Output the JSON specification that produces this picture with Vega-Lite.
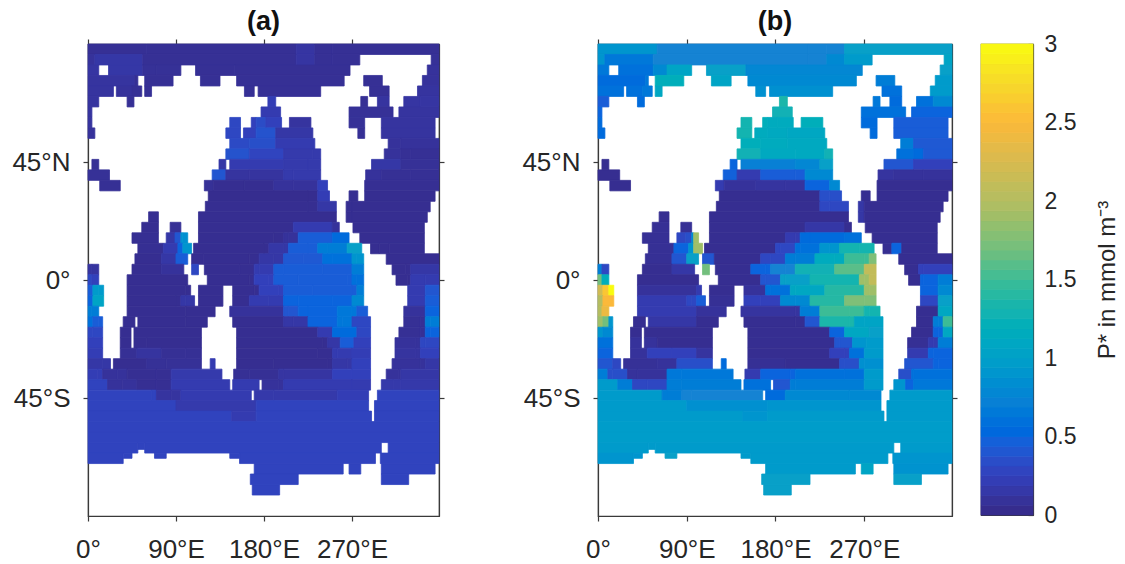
{"$schema":"https://vega.github.io/schema/vega-lite/v6.json","padding":{"left":11,"top":7,"right":0,"bottom":0},"background":"white","spacing":21,
"config":{"view":{"stroke":"#3a3a3a","strokeWidth":1.2},"range":{"heatmap":["#352a87","#3240bb","#0b64dd","#1583d3","#08a0c8","#12b1b5","#3cbc96","#7fbf78","#b4bd61","#d8ba50","#fbb93a","#f6d92a","#f9fb0e"],"ramp":["#352a87","#3240bb","#0b64dd","#1583d3","#08a0c8","#12b1b5","#3cbc96","#7fbf78","#b4bd61","#d8ba50","#fbb93a","#f6d92a","#f9fb0e"]},"axis":{"labelFont":"Liberation Sans","labelFontSize":26,"labelColor":"#262626","tickColor":"#3a3a3a","domainColor":"#3a3a3a","tickSize":5,"grid":false,"title":null,"tickWidth":1.2,"domainWidth":1.2},"title":{"font":"Liberation Sans","fontSize":27,"fontWeight":"bold","color":"#111111","offset":2}},
"datasets":{"ocean":[
{"n":90,"s":86,"w":0,"e":60,"a":0.07,"b":0.9},{"n":90,"s":86,"w":60,"e":213,"a":0.07,"b":0.75},{"n":90,"s":86,"w":213,"e":232,"a":0.13,"b":0.75},{"n":90,"s":86,"w":232,"e":250,"a":0.07,"b":0.75},{"n":90,"s":86,"w":250,"e":359,"a":0.07,"b":1.0},
{"n":86,"s":82,"w":0,"e":7,"a":0.1,"b":0.9},{"n":86,"s":82,"w":7,"e":56,"a":0.15,"b":0.65},{"n":86,"s":82,"w":56,"e":213,"a":0.07,"b":0.75},{"n":86,"s":82,"w":213,"e":232,"a":0.13,"b":0.75},{"n":86,"s":82,"w":232,"e":250,"a":0.07,"b":0.8},{"n":86,"s":82,"w":250,"e":278,"a":0.07,"b":0.95},{"n":86,"s":82,"w":351,"e":359,"a":0.08,"b":1.05},
{"n":82,"s":78,"w":0,"e":11,"a":0.13,"b":0.65},{"n":82,"s":78,"w":21,"e":56,"a":0.15,"b":0.6},{"n":82,"s":78,"w":56,"e":70,"a":0.08,"b":0.8},{"n":82,"s":78,"w":70,"e":95,"a":0.08,"b":1.05},{"n":82,"s":78,"w":110,"e":150,"a":0.07,"b":1.0},{"n":82,"s":78,"w":150,"e":268,"a":0.07,"b":0.78},{"n":82,"s":78,"w":347,"e":359,"a":0.1,"b":1.0},
{"n":78,"s":74,"w":0,"e":48,"a":0.12,"b":0.55},{"n":78,"s":74,"w":48,"e":51,"a":0.07,"b":0.65},{"n":78,"s":74,"w":58,"e":87,"a":0.07,"b":1.2},{"n":78,"s":74,"w":115,"e":135,"a":0.07,"b":1.05},{"n":78,"s":74,"w":152,"e":262,"a":0.07,"b":0.8},{"n":78,"s":74,"w":282,"e":301,"a":0.07,"b":0.7},{"n":78,"s":74,"w":342,"e":359,"a":0.1,"b":0.95},
{"n":74,"s":70,"w":0,"e":26,"a":0.12,"b":0.6},{"n":74,"s":70,"w":29,"e":45,"a":0.1,"b":0.6},{"n":74,"s":70,"w":45,"e":55,"a":0.07,"b":0.65},{"n":74,"s":70,"w":58,"e":65,"a":0.07,"b":1.1},{"n":74,"s":70,"w":160,"e":170,"a":0.07,"b":0.85},{"n":74,"s":70,"w":174,"e":238,"a":0.07,"b":0.85},{"n":74,"s":70,"w":288,"e":308,"a":0.07,"b":0.6},{"n":74,"s":70,"w":337,"e":359,"a":0.12,"b":0.95},
{"n":70,"s":66,"w":0,"e":11,"a":0.12,"b":0.45},{"n":70,"s":66,"w":40,"e":47,"a":0.07,"b":0.55},{"n":70,"s":66,"w":184,"e":192,"a":0.22,"b":1.35},{"n":70,"s":66,"w":279,"e":286,"a":0.07,"b":0.65},{"n":70,"s":66,"w":296,"e":308,"a":0.12,"b":0.55},{"n":70,"s":66,"w":323,"e":340,"a":0.13,"b":0.6},{"n":70,"s":66,"w":340,"e":359,"a":0.13,"b":0.8},
{"n":66,"s":62,"w":0,"e":4,"a":0.12,"b":0.5},{"n":66,"s":62,"w":177,"e":197,"a":0.2,"b":1.25},{"n":66,"s":62,"w":267,"e":312,"a":0.08,"b":0.6},{"n":66,"s":62,"w":318,"e":359,"a":0.12,"b":0.5},
{"n":62,"s":58,"w":0,"e":4,"a":0.12,"b":0.55},{"n":62,"s":58,"w":145,"e":156,"a":0.3,"b":1.3},{"n":62,"s":58,"w":167,"e":172,"a":0.25,"b":1.2},{"n":62,"s":58,"w":172,"e":182,"a":0.33,"b":1.15},{"n":62,"s":58,"w":182,"e":198,"a":0.25,"b":1.15},{"n":62,"s":58,"w":206,"e":228,"a":0.12,"b":1.2},{"n":62,"s":58,"w":267,"e":283,"a":0.08,"b":0.55},{"n":62,"s":58,"w":300,"e":355,"a":0.12,"b":0.45},
{"n":58,"s":54,"w":0,"e":7,"a":0.1,"b":0.55},{"n":58,"s":54,"w":141,"e":156,"a":0.3,"b":1.3},{"n":58,"s":54,"w":159,"e":172,"a":0.25,"b":1.15},{"n":58,"s":54,"w":172,"e":192,"a":0.38,"b":1.12},{"n":58,"s":54,"w":192,"e":230,"a":0.15,"b":1.1},{"n":58,"s":54,"w":276,"e":283,"a":0.07,"b":0.55},{"n":58,"s":54,"w":300,"e":355,"a":0.12,"b":0.45},
{"n":54,"s":50,"w":145,"e":165,"a":0.32,"b":1.2},{"n":54,"s":50,"w":165,"e":192,"a":0.35,"b":1.15},{"n":54,"s":50,"w":192,"e":232,"a":0.2,"b":1.12},{"n":54,"s":50,"w":307,"e":320,"a":0.1,"b":0.7},{"n":54,"s":50,"w":320,"e":359,"a":0.1,"b":0.42},
{"n":50,"s":46,"w":141,"e":165,"a":0.38,"b":1.25},{"n":50,"s":46,"w":165,"e":200,"a":0.28,"b":1.12},{"n":50,"s":46,"w":200,"e":230,"a":0.18,"b":1.12},{"n":50,"s":46,"w":230,"e":238,"a":0.18,"b":1.25},{"n":50,"s":46,"w":303,"e":320,"a":0.1,"b":0.6},{"n":50,"s":46,"w":320,"e":330,"a":0.07,"b":0.55},{"n":50,"s":46,"w":330,"e":359,"a":0.07,"b":0.42},
{"n":46,"s":42,"w":4,"e":11,"a":0.07,"b":0.05},{"n":46,"s":42,"w":134,"e":141,"a":0.15,"b":0.5},{"n":46,"s":42,"w":145,"e":200,"a":0.2,"b":0.72},{"n":46,"s":42,"w":200,"e":225,"a":0.18,"b":0.78},{"n":46,"s":42,"w":225,"e":238,"a":0.18,"b":1.0},{"n":46,"s":42,"w":290,"e":320,"a":0.15,"b":0.4},{"n":46,"s":42,"w":320,"e":359,"a":0.08,"b":0.25},
{"n":42,"s":38,"w":0,"e":22,"a":0.08,"b":0.05},{"n":42,"s":38,"w":127,"e":141,"a":0.4,"b":0.48},{"n":42,"s":38,"w":141,"e":165,"a":0.12,"b":0.2},{"n":42,"s":38,"w":165,"e":200,"a":0.12,"b":0.45},{"n":42,"s":38,"w":200,"e":210,"a":0.18,"b":0.45},{"n":42,"s":38,"w":210,"e":238,"a":0.18,"b":0.8},{"n":42,"s":38,"w":284,"e":300,"a":0.1,"b":0.12},{"n":42,"s":38,"w":300,"e":330,"a":0.07,"b":0.1},{"n":42,"s":38,"w":330,"e":359,"a":0.07,"b":0.1},
{"n":38,"s":34,"w":12,"e":33,"a":0.07,"b":0.05},{"n":38,"s":34,"w":119,"e":128,"a":0.08,"b":0.2},{"n":38,"s":34,"w":128,"e":160,"a":0.05,"b":0.1},{"n":38,"s":34,"w":160,"e":190,"a":0.05,"b":0.12},{"n":38,"s":34,"w":190,"e":210,"a":0.1,"b":0.12},{"n":38,"s":34,"w":210,"e":235,"a":0.1,"b":0.5},{"n":38,"s":34,"w":235,"e":245,"a":0.25,"b":0.8},{"n":38,"s":34,"w":283,"e":359,"a":0.06,"b":0.05},
{"n":34,"s":30,"w":123,"e":225,"a":0.04,"b":0.05},{"n":34,"s":30,"w":225,"e":235,"a":0.04,"b":0.35},{"n":34,"s":30,"w":235,"e":247,"a":0.22,"b":0.35},{"n":34,"s":30,"w":267,"e":276,"a":0.05,"b":0.05},{"n":34,"s":30,"w":283,"e":355,"a":0.05,"b":0.05},
{"n":30,"s":26,"w":120,"e":225,"a":0.05,"b":0.05},{"n":30,"s":26,"w":225,"e":235,"a":0.05,"b":0.3},{"n":30,"s":26,"w":235,"e":254,"a":0.15,"b":0.3},{"n":30,"s":26,"w":264,"e":270,"a":0.05,"b":0.15},{"n":30,"s":26,"w":270,"e":350,"a":0.05,"b":0.05},
{"n":26,"s":22,"w":62,"e":72,"a":0.05,"b":0.05},{"n":26,"s":22,"w":113,"e":254,"a":0.05,"b":0.05},{"n":26,"s":22,"w":264,"e":270,"a":0.05,"b":0.15},{"n":26,"s":22,"w":270,"e":347,"a":0.05,"b":0.05},
{"n":22,"s":18,"w":55,"e":72,"a":0.05,"b":0.07},{"n":22,"s":18,"w":84,"e":95,"a":0.07,"b":0.07},{"n":22,"s":18,"w":113,"e":210,"a":0.05,"b":0.05},{"n":22,"s":18,"w":210,"e":250,"a":0.2,"b":0.15},{"n":22,"s":18,"w":250,"e":257,"a":0.1,"b":0.05},{"n":22,"s":18,"w":271,"e":344,"a":0.05,"b":0.05},
{"n":18,"s":14,"w":45,"e":72,"a":0.06,"b":0.07},{"n":18,"s":14,"w":80,"e":89,"a":0.15,"b":0.3},{"n":18,"s":14,"w":89,"e":95,"a":0.4,"b":0.35},{"n":18,"s":14,"w":95,"e":97,"a":0.85,"b":0.8},{"n":18,"s":14,"w":97,"e":102,"a":0.85,"b":1.9},{"n":18,"s":14,"w":113,"e":190,"a":0.05,"b":0.05},{"n":18,"s":14,"w":190,"e":200,"a":0.05,"b":0.2},{"n":18,"s":14,"w":200,"e":205,"a":0.1,"b":0.2},{"n":18,"s":14,"w":205,"e":215,"a":0.1,"b":0.55},{"n":18,"s":14,"w":215,"e":250,"a":0.45,"b":0.55},{"n":18,"s":14,"w":250,"e":267,"a":0.55,"b":0.6},{"n":18,"s":14,"w":278,"e":344,"a":0.05,"b":0.05},
{"n":14,"s":10,"w":51,"e":77,"a":0.06,"b":0.07},{"n":14,"s":10,"w":77,"e":92,"a":0.2,"b":0.5},{"n":14,"s":10,"w":92,"e":97,"a":0.5,"b":0.9},{"n":14,"s":10,"w":97,"e":106,"a":0.9,"b":1.9},{"n":14,"s":10,"w":108,"e":180,"a":0.05,"b":0.05},{"n":14,"s":10,"w":180,"e":185,"a":0.05,"b":0.3},{"n":14,"s":10,"w":185,"e":200,"a":0.15,"b":0.3},{"n":14,"s":10,"w":200,"e":205,"a":0.15,"b":0.6},{"n":14,"s":10,"w":205,"e":225,"a":0.45,"b":0.6},{"n":14,"s":10,"w":225,"e":235,"a":0.45,"b":0.9},{"n":14,"s":10,"w":235,"e":245,"a":0.7,"b":0.9},{"n":14,"s":10,"w":245,"e":265,"a":0.7,"b":1.3},{"n":14,"s":10,"w":265,"e":280,"a":1.0,"b":1.3},{"n":14,"s":10,"w":289,"e":298,"a":0.05,"b":0.05},{"n":14,"s":10,"w":298,"e":308,"a":0.05,"b":0.5},{"n":14,"s":10,"w":308,"e":344,"a":0.05,"b":0.05},
{"n":10,"s":6,"w":48,"e":75,"a":0.05,"b":0.07},{"n":10,"s":6,"w":75,"e":90,"a":0.15,"b":0.4},{"n":10,"s":6,"w":90,"e":102,"a":0.45,"b":1.0},{"n":10,"s":6,"w":106,"e":118,"a":0.05,"b":0.4},{"n":10,"s":6,"w":118,"e":165,"a":0.05,"b":0.05},{"n":10,"s":6,"w":165,"e":175,"a":0.05,"b":0.3},{"n":10,"s":6,"w":175,"e":190,"a":0.15,"b":0.3},{"n":10,"s":6,"w":190,"e":200,"a":0.15,"b":0.7},{"n":10,"s":6,"w":200,"e":220,"a":0.42,"b":0.7},{"n":10,"s":6,"w":220,"e":240,"a":0.42,"b":1.15},{"n":10,"s":6,"w":240,"e":250,"a":0.6,"b":1.15},{"n":10,"s":6,"w":250,"e":270,"a":0.6,"b":1.5},{"n":10,"s":6,"w":270,"e":275,"a":0.9,"b":1.5},{"n":10,"s":6,"w":275,"e":282,"a":0.9,"b":1.75},{"n":10,"s":6,"w":305,"e":359,"a":0.05,"b":0.05},
{"n":6,"s":2,"w":0,"e":4,"a":0.12,"b":0.7},{"n":6,"s":2,"w":4,"e":11,"a":0.12,"b":0.3},{"n":6,"s":2,"w":45,"e":75,"a":0.05,"b":0.05},{"n":6,"s":2,"w":75,"e":98,"a":0.1,"b":0.15},{"n":6,"s":2,"w":106,"e":113,"a":0.3,"b":1.7},{"n":6,"s":2,"w":119,"e":155,"a":0.05,"b":0.05},{"n":6,"s":2,"w":155,"e":170,"a":0.05,"b":0.5},{"n":6,"s":2,"w":170,"e":175,"a":0.2,"b":0.5},{"n":6,"s":2,"w":175,"e":190,"a":0.2,"b":0.75},{"n":6,"s":2,"w":190,"e":200,"a":0.45,"b":0.75},{"n":6,"s":2,"w":200,"e":240,"a":0.45,"b":1.25},{"n":6,"s":2,"w":240,"e":270,"a":0.45,"b":1.6},{"n":6,"s":2,"w":270,"e":282,"a":0.7,"b":2.1},{"n":6,"s":2,"w":311,"e":325,"a":0.05,"b":0.05},{"n":6,"s":2,"w":325,"e":330,"a":0.05,"b":0.25},{"n":6,"s":2,"w":330,"e":359,"a":0.15,"b":0.25},
{"n":2,"s":-2,"w":0,"e":4,"a":0.3,"b":1.7},{"n":2,"s":-2,"w":4,"e":11,"a":0.25,"b":1.2},{"n":2,"s":-2,"w":40,"e":102,"a":0.05,"b":0.05},{"n":2,"s":-2,"w":122,"e":165,"a":0.05,"b":0.05},{"n":2,"s":-2,"w":165,"e":170,"a":0.05,"b":0.4},{"n":2,"s":-2,"w":170,"e":185,"a":0.25,"b":0.4},{"n":2,"s":-2,"w":185,"e":190,"a":0.25,"b":1.0},{"n":2,"s":-2,"w":190,"e":215,"a":0.45,"b":1.0},{"n":2,"s":-2,"w":215,"e":265,"a":0.45,"b":1.3},{"n":2,"s":-2,"w":265,"e":270,"a":0.45,"b":1.9},{"n":2,"s":-2,"w":270,"e":275,"a":0.6,"b":1.9},{"n":2,"s":-2,"w":275,"e":282,"a":0.6,"b":2.1},{"n":2,"s":-2,"w":315,"e":327,"a":0.05,"b":0.05},{"n":2,"s":-2,"w":327,"e":330,"a":0.05,"b":0.5},{"n":2,"s":-2,"w":330,"e":345,"a":0.2,"b":0.5},{"n":2,"s":-2,"w":345,"e":359,"a":0.2,"b":0.7},
{"n":-2,"s":-6,"w":0,"e":5,"a":0.45,"b":2.2},{"n":-2,"s":-6,"w":5,"e":11,"a":0.95,"b":2.6},{"n":-2,"s":-6,"w":11,"e":16,"a":0.95,"b":3.0},{"n":-2,"s":-6,"w":40,"e":100,"a":0.05,"b":0.1},{"n":-2,"s":-6,"w":100,"e":105,"a":0.05,"b":0.2},{"n":-2,"s":-6,"w":113,"e":138,"a":0.05,"b":0.05},{"n":-2,"s":-6,"w":148,"e":170,"a":0.05,"b":0.1},{"n":-2,"s":-6,"w":170,"e":175,"a":0.05,"b":0.6},{"n":-2,"s":-6,"w":175,"e":195,"a":0.25,"b":0.6},{"n":-2,"s":-6,"w":195,"e":200,"a":0.25,"b":1.1},{"n":-2,"s":-6,"w":200,"e":230,"a":0.45,"b":1.1},{"n":-2,"s":-6,"w":230,"e":270,"a":0.45,"b":1.4},{"n":-2,"s":-6,"w":270,"e":275,"a":0.45,"b":1.9},{"n":-2,"s":-6,"w":275,"e":282,"a":0.7,"b":1.9},{"n":-2,"s":-6,"w":327,"e":345,"a":0.2,"b":0.5},{"n":-2,"s":-6,"w":345,"e":359,"a":0.4,"b":0.8},
{"n":-6,"s":-10,"w":0,"e":5,"a":0.5,"b":2.0},{"n":-6,"s":-10,"w":5,"e":16,"a":1.05,"b":2.5},{"n":-6,"s":-10,"w":40,"e":90,"a":0.05,"b":0.2},{"n":-6,"s":-10,"w":90,"e":95,"a":0.05,"b":0.3},{"n":-6,"s":-10,"w":95,"e":100,"a":0.15,"b":0.3},{"n":-6,"s":-10,"w":100,"e":109,"a":0.15,"b":0.45},{"n":-6,"s":-10,"w":113,"e":138,"a":0.05,"b":0.07},{"n":-6,"s":-10,"w":148,"e":165,"a":0.05,"b":0.25},{"n":-6,"s":-10,"w":165,"e":185,"a":0.2,"b":0.25},{"n":-6,"s":-10,"w":185,"e":200,"a":0.2,"b":0.8},{"n":-6,"s":-10,"w":200,"e":215,"a":0.5,"b":0.8},{"n":-6,"s":-10,"w":215,"e":250,"a":0.5,"b":1.4},{"n":-6,"s":-10,"w":250,"e":270,"a":0.5,"b":1.75},{"n":-6,"s":-10,"w":270,"e":282,"a":0.8,"b":1.75},{"n":-6,"s":-10,"w":327,"e":345,"a":0.2,"b":0.3},{"n":-6,"s":-10,"w":345,"e":359,"a":0.45,"b":1.0},
{"n":-10,"s":-14,"w":0,"e":4,"a":0.7,"b":2.0},{"n":-10,"s":-14,"w":4,"e":11,"a":0.7,"b":2.4},{"n":-10,"s":-14,"w":40,"e":100,"a":0.05,"b":0.2},{"n":-10,"s":-14,"w":100,"e":130,"a":0.05,"b":0.1},{"n":-10,"s":-14,"w":145,"e":200,"a":0.1,"b":0.12},{"n":-10,"s":-14,"w":200,"e":205,"a":0.4,"b":0.12},{"n":-10,"s":-14,"w":205,"e":215,"a":0.4,"b":0.7},{"n":-10,"s":-14,"w":215,"e":225,"a":0.5,"b":0.7},{"n":-10,"s":-14,"w":225,"e":255,"a":0.5,"b":1.5},{"n":-10,"s":-14,"w":255,"e":270,"a":0.65,"b":1.5},{"n":-10,"s":-14,"w":270,"e":275,"a":0.65,"b":1.3},{"n":-10,"s":-14,"w":275,"e":286,"a":0.45,"b":1.3},{"n":-10,"s":-14,"w":323,"e":345,"a":0.1,"b":0.05},{"n":-10,"s":-14,"w":345,"e":359,"a":0.5,"b":1.1},
{"n":-14,"s":-18,"w":0,"e":5,"a":0.6,"b":1.9},{"n":-14,"s":-18,"w":5,"e":11,"a":0.45,"b":1.7},{"n":-14,"s":-18,"w":11,"e":15,"a":0.45,"b":0.9},{"n":-14,"s":-18,"w":36,"e":48,"a":0.05,"b":0.05},{"n":-14,"s":-18,"w":51,"e":100,"a":0.05,"b":0.15},{"n":-14,"s":-18,"w":100,"e":122,"a":0.05,"b":0.05},{"n":-14,"s":-18,"w":148,"e":200,"a":0.05,"b":0.05},{"n":-14,"s":-18,"w":200,"e":210,"a":0.15,"b":0.05},{"n":-14,"s":-18,"w":210,"e":225,"a":0.15,"b":0.4},{"n":-14,"s":-18,"w":225,"e":255,"a":0.5,"b":1.35},{"n":-14,"s":-18,"w":255,"e":260,"a":0.65,"b":1.35},{"n":-14,"s":-18,"w":260,"e":270,"a":0.65,"b":1.05},{"n":-14,"s":-18,"w":270,"e":289,"a":0.3,"b":1.05},{"n":-14,"s":-18,"w":323,"e":340,"a":0.07,"b":0.05},{"n":-14,"s":-18,"w":340,"e":345,"a":0.07,"b":0.7},{"n":-14,"s":-18,"w":345,"e":350,"a":0.7,"b":0.7},{"n":-14,"s":-18,"w":350,"e":359,"a":0.7,"b":1.5},
{"n":-18,"s":-22,"w":0,"e":5,"a":0.3,"b":0.9},{"n":-18,"s":-22,"w":5,"e":15,"a":0.3,"b":0.8},{"n":-18,"s":-22,"w":33,"e":44,"a":0.05,"b":0.05},{"n":-18,"s":-22,"w":47,"e":116,"a":0.05,"b":0.05},{"n":-18,"s":-22,"w":152,"e":235,"a":0.05,"b":0.05},{"n":-18,"s":-22,"w":235,"e":250,"a":0.2,"b":0.5},{"n":-18,"s":-22,"w":250,"e":275,"a":0.55,"b":1.1},{"n":-18,"s":-22,"w":275,"e":289,"a":0.3,"b":1.0},{"n":-18,"s":-22,"w":318,"e":340,"a":0.07,"b":0.05},{"n":-18,"s":-22,"w":340,"e":345,"a":0.07,"b":0.5},{"n":-18,"s":-22,"w":345,"e":350,"a":0.5,"b":0.5},{"n":-18,"s":-22,"w":350,"e":359,"a":0.5,"b":1.1},
{"n":-22,"s":-26,"w":0,"e":15,"a":0.25,"b":0.6},{"n":-22,"s":-26,"w":33,"e":44,"a":0.05,"b":0.1},{"n":-22,"s":-26,"w":47,"e":60,"a":0.05,"b":0.1},{"n":-22,"s":-26,"w":60,"e":116,"a":0.05,"b":0.05},{"n":-22,"s":-26,"w":152,"e":240,"a":0.05,"b":0.05},{"n":-22,"s":-26,"w":240,"e":245,"a":0.05,"b":0.4},{"n":-22,"s":-26,"w":245,"e":258,"a":0.15,"b":0.4},{"n":-22,"s":-26,"w":258,"e":272,"a":0.45,"b":0.9},{"n":-22,"s":-26,"w":272,"e":289,"a":0.25,"b":0.95},{"n":-22,"s":-26,"w":314,"e":335,"a":0.1,"b":0.07},{"n":-22,"s":-26,"w":335,"e":340,"a":0.1,"b":0.2},{"n":-22,"s":-26,"w":340,"e":345,"a":0.3,"b":0.2},{"n":-22,"s":-26,"w":345,"e":359,"a":0.3,"b":0.7},
{"n":-26,"s":-30,"w":0,"e":15,"a":0.22,"b":0.5},{"n":-26,"s":-30,"w":33,"e":50,"a":0.07,"b":0.1},{"n":-26,"s":-30,"w":50,"e":75,"a":0.12,"b":0.25},{"n":-26,"s":-30,"w":75,"e":100,"a":0.07,"b":0.25},{"n":-26,"s":-30,"w":100,"e":116,"a":0.07,"b":0.12},{"n":-26,"s":-30,"w":152,"e":235,"a":0.05,"b":0.05},{"n":-26,"s":-30,"w":235,"e":250,"a":0.05,"b":0.25},{"n":-26,"s":-30,"w":250,"e":255,"a":0.2,"b":0.25},{"n":-26,"s":-30,"w":255,"e":270,"a":0.2,"b":0.6},{"n":-26,"s":-30,"w":270,"e":289,"a":0.22,"b":0.95},{"n":-26,"s":-30,"w":314,"e":335,"a":0.12,"b":0.2},{"n":-26,"s":-30,"w":335,"e":340,"a":0.12,"b":0.5},{"n":-26,"s":-30,"w":340,"e":359,"a":0.25,"b":0.5},
{"n":-30,"s":-34,"w":0,"e":15,"a":0.15,"b":0.4},{"n":-30,"s":-34,"w":15,"e":23,"a":0.15,"b":0.3},{"n":-30,"s":-34,"w":26,"e":60,"a":0.05,"b":0.08},{"n":-30,"s":-34,"w":60,"e":80,"a":0.08,"b":0.1},{"n":-30,"s":-34,"w":80,"e":116,"a":0.08,"b":0.35},{"n":-30,"s":-34,"w":125,"e":130,"a":0.2,"b":0.55},{"n":-30,"s":-34,"w":152,"e":190,"a":0.05,"b":0.07},{"n":-30,"s":-34,"w":190,"e":245,"a":0.05,"b":0.05},{"n":-30,"s":-34,"w":245,"e":250,"a":0.05,"b":0.35},{"n":-30,"s":-34,"w":250,"e":265,"a":0.15,"b":0.35},{"n":-30,"s":-34,"w":265,"e":270,"a":0.15,"b":0.85},{"n":-30,"s":-34,"w":270,"e":289,"a":0.25,"b":0.85},{"n":-30,"s":-34,"w":311,"e":340,"a":0.1,"b":0.4},{"n":-30,"s":-34,"w":340,"e":345,"a":0.1,"b":0.5},{"n":-30,"s":-34,"w":345,"e":359,"a":0.15,"b":0.5},
{"n":-34,"s":-38,"w":0,"e":10,"a":0.22,"b":0.7},{"n":-34,"s":-38,"w":10,"e":15,"a":0.22,"b":0.35},{"n":-34,"s":-38,"w":15,"e":30,"a":0.1,"b":0.35},{"n":-34,"s":-38,"w":30,"e":40,"a":0.1,"b":0.1},{"n":-34,"s":-38,"w":40,"e":70,"a":0.06,"b":0.1},{"n":-34,"s":-38,"w":70,"e":85,"a":0.06,"b":0.65},{"n":-34,"s":-38,"w":85,"e":137,"a":0.18,"b":0.65},{"n":-34,"s":-38,"w":149,"e":165,"a":0.07,"b":0.2},{"n":-34,"s":-38,"w":165,"e":195,"a":0.07,"b":0.5},{"n":-34,"s":-38,"w":195,"e":200,"a":0.13,"b":0.5},{"n":-34,"s":-38,"w":200,"e":250,"a":0.13,"b":0.6},{"n":-34,"s":-38,"w":250,"e":270,"a":0.25,"b":0.6},{"n":-34,"s":-38,"w":270,"e":289,"a":0.25,"b":0.95},{"n":-34,"s":-38,"w":305,"e":318,"a":0.1,"b":0.35},{"n":-34,"s":-38,"w":318,"e":320,"a":0.1,"b":0.6},{"n":-34,"s":-38,"w":320,"e":359,"a":0.15,"b":0.6},
{"n":-38,"s":-42,"w":0,"e":20,"a":0.27,"b":0.95},{"n":-38,"s":-42,"w":20,"e":35,"a":0.1,"b":0.7},{"n":-38,"s":-42,"w":35,"e":50,"a":0.1,"b":0.3},{"n":-38,"s":-42,"w":50,"e":70,"a":0.06,"b":0.3},{"n":-38,"s":-42,"w":70,"e":85,"a":0.06,"b":0.7},{"n":-38,"s":-42,"w":85,"e":145,"a":0.2,"b":0.7},{"n":-38,"s":-42,"w":148,"e":175,"a":0.2,"b":0.6},{"n":-38,"s":-42,"w":178,"e":195,"a":0.1,"b":0.4},{"n":-38,"s":-42,"w":195,"e":200,"a":0.1,"b":0.7},{"n":-38,"s":-42,"w":200,"e":270,"a":0.2,"b":0.7},{"n":-38,"s":-42,"w":270,"e":289,"a":0.2,"b":0.95},{"n":-38,"s":-42,"w":300,"e":312,"a":0.17,"b":0.9},{"n":-38,"s":-42,"w":312,"e":320,"a":0.17,"b":0.5},{"n":-38,"s":-42,"w":320,"e":359,"a":0.17,"b":0.65},
{"n":-42,"s":-46,"w":0,"e":65,"a":0.27,"b":0.95},{"n":-42,"s":-46,"w":65,"e":70,"a":0.27,"b":0.7},{"n":-42,"s":-46,"w":70,"e":85,"a":0.12,"b":0.7},{"n":-42,"s":-46,"w":85,"e":95,"a":0.12,"b":0.75},{"n":-42,"s":-46,"w":95,"e":167,"a":0.2,"b":0.75},{"n":-42,"s":-46,"w":170,"e":190,"a":0.17,"b":0.55},{"n":-42,"s":-46,"w":190,"e":255,"a":0.17,"b":0.8},{"n":-42,"s":-46,"w":255,"e":287,"a":0.22,"b":0.8},{"n":-42,"s":-46,"w":296,"e":359,"a":0.27,"b":0.95},
{"n":-46,"s":-50,"w":0,"e":90,"a":0.27,"b":0.95},{"n":-46,"s":-50,"w":90,"e":172,"a":0.18,"b":0.85},{"n":-46,"s":-50,"w":172,"e":287,"a":0.27,"b":0.9},{"n":-46,"s":-50,"w":293,"e":359,"a":0.27,"b":0.95},
{"n":-50,"s":-54,"w":0,"e":147,"a":0.27,"b":0.95},{"n":-50,"s":-54,"w":147,"e":172,"a":0.2,"b":0.9},{"n":-50,"s":-54,"w":172,"e":290,"a":0.27,"b":0.95},{"n":-50,"s":-54,"w":293,"e":359,"a":0.27,"b":0.95},
{"n":-54,"s":-58,"w":0,"e":359,"a":0.27,"b":0.97},
{"n":-58,"s":-62,"w":0,"e":359,"a":0.27,"b":0.97},
{"n":-62,"s":-66,"w":0,"e":51,"a":0.27,"b":0.95},{"n":-62,"s":-64.6,"w":51,"e":58,"a":0.27,"b":0.95},{"n":-62,"s":-66,"w":58,"e":300,"a":0.27,"b":0.95},{"n":-62,"s":-66,"w":307,"e":359,"a":0.27,"b":0.95},
{"n":-66,"s":-70,"w":0,"e":36,"a":0.27,"b":0.9},{"n":-66,"s":-68,"w":36,"e":45,"a":0.27,"b":0.9},{"n":-66,"s":-68,"w":68,"e":80,"a":0.27,"b":1.0},{"n":-66,"s":-68,"w":145,"e":155,"a":0.27,"b":0.95},{"n":-66,"s":-70,"w":155,"e":294,"a":0.27,"b":0.95},{"n":-66,"s":-70,"w":299,"e":359,"a":0.27,"b":0.9},
{"n":-70,"s":-74,"w":170,"e":261,"a":0.27,"b":0.95},{"n":-70,"s":-74,"w":267,"e":279,"a":0.27,"b":1.05},{"n":-70,"s":-74,"w":300,"e":355,"a":0.27,"b":0.88},
{"n":-74,"s":-78,"w":166,"e":215,"a":0.27,"b":1.0},{"n":-74,"s":-78,"w":300,"e":328,"a":0.27,"b":1.0},
{"n":-78,"s":-82,"w":168,"e":196,"a":0.27,"b":1.0}
],
"bar":[{"v":0.03,"lo":0,"hi":0.0625},{"v":0.09,"lo":0.0625,"hi":0.125},{"v":0.16,"lo":0.125,"hi":0.1875},{"v":0.22,"lo":0.1875,"hi":0.25},{"v":0.28,"lo":0.25,"hi":0.3125},{"v":0.34,"lo":0.3125,"hi":0.375},{"v":0.41,"lo":0.375,"hi":0.4375},{"v":0.47,"lo":0.4375,"hi":0.5},{"v":0.53,"lo":0.5,"hi":0.5625},{"v":0.59,"lo":0.5625,"hi":0.625},{"v":0.66,"lo":0.625,"hi":0.6875},{"v":0.72,"lo":0.6875,"hi":0.75},{"v":0.78,"lo":0.75,"hi":0.8125},{"v":0.84,"lo":0.8125,"hi":0.875},{"v":0.91,"lo":0.875,"hi":0.9375},{"v":0.97,"lo":0.9375,"hi":1},{"v":1.03,"lo":1,"hi":1.0625},{"v":1.09,"lo":1.0625,"hi":1.125},{"v":1.16,"lo":1.125,"hi":1.1875},{"v":1.22,"lo":1.1875,"hi":1.25},{"v":1.28,"lo":1.25,"hi":1.3125},{"v":1.34,"lo":1.3125,"hi":1.375},{"v":1.41,"lo":1.375,"hi":1.4375},{"v":1.47,"lo":1.4375,"hi":1.5},{"v":1.53,"lo":1.5,"hi":1.5625},{"v":1.59,"lo":1.5625,"hi":1.625},{"v":1.66,"lo":1.625,"hi":1.6875},{"v":1.72,"lo":1.6875,"hi":1.75},{"v":1.78,"lo":1.75,"hi":1.8125},{"v":1.84,"lo":1.8125,"hi":1.875},{"v":1.91,"lo":1.875,"hi":1.9375},{"v":1.97,"lo":1.9375,"hi":2},{"v":2.03,"lo":2,"hi":2.0625},{"v":2.09,"lo":2.0625,"hi":2.125},{"v":2.16,"lo":2.125,"hi":2.1875},{"v":2.22,"lo":2.1875,"hi":2.25},{"v":2.28,"lo":2.25,"hi":2.3125},{"v":2.34,"lo":2.3125,"hi":2.375},{"v":2.41,"lo":2.375,"hi":2.4375},{"v":2.47,"lo":2.4375,"hi":2.5},{"v":2.53,"lo":2.5,"hi":2.5625},{"v":2.59,"lo":2.5625,"hi":2.625},{"v":2.66,"lo":2.625,"hi":2.6875},{"v":2.72,"lo":2.6875,"hi":2.75},{"v":2.78,"lo":2.75,"hi":2.8125},{"v":2.84,"lo":2.8125,"hi":2.875},{"v":2.91,"lo":2.875,"hi":2.9375},{"v":2.97,"lo":2.9375,"hi":3}]},
"hconcat":[
{"data":{"name":"ocean"},"width":351,"height":472,"title":"(a)","resolve":{"axis":{"x":"independent","y":"independent"}},"layer":[
{"mark":{"type":"rect","strokeWidth":0.8},"encoding":{
"x":{"field":"w","type":"quantitative","scale":{"domain":[0,359],"nice":false,"zero":false},"axis":{"orient":"bottom","values":[0,90,180,270],"labelExpr":"datum.value==0?'0°':datum.value+'°E'","labelPadding":15,"labelFlush":false,"labelOverlap":false}},"x2":{"field":"e"},
"y":{"field":"n","type":"quantitative","scale":{"domain":[-90,90],"nice":false,"zero":false},"axis":{"orient":"left","values":[-45,0,45],"labelExpr":"datum.value==0?'0°':datum.value>0?datum.value+'°N':(-datum.value)+'°S'","labelPadding":13,"minExtent":74,"maxExtent":74}},"y2":{"field":"s"},
"color":{"field":"a","type":"quantitative","scale":{"domain":[0,3],"clamp":true},"legend":null},
"stroke":{"field":"a","type":"quantitative","scale":{"domain":[0,3],"clamp":true},"legend":null}}},
{"mark":{"type":"rect","opacity":0},"encoding":{
"x":{"field":"w","type":"quantitative","scale":{"domain":[0,359],"nice":false,"zero":false},"axis":{"orient":"top","values":[0,90,180,270],"labels":false,"minExtent":5,"maxExtent":5}},"x2":{"field":"e"},
"y":{"field":"n","type":"quantitative","scale":{"domain":[-90,90],"nice":false,"zero":false},"axis":{"orient":"right","values":[-45,0,45],"labels":false,"minExtent":5,"maxExtent":5}},"y2":{"field":"s"}}}
]},
{"data":{"name":"ocean"},"width":354,"height":472,"title":"(b)","resolve":{"axis":{"x":"independent","y":"independent"}},"layer":[
{"mark":{"type":"rect","strokeWidth":0.8},"encoding":{
"x":{"field":"w","type":"quantitative","scale":{"domain":[0,359],"nice":false,"zero":false},"axis":{"orient":"bottom","values":[0,90,180,270],"labelExpr":"datum.value==0?'0°':datum.value+'°E'","labelPadding":15,"labelFlush":false,"labelOverlap":false}},"x2":{"field":"e"},
"y":{"field":"n","type":"quantitative","scale":{"domain":[-90,90],"nice":false,"zero":false},"axis":{"orient":"left","values":[-45,0,45],"labelExpr":"datum.value==0?'0°':datum.value>0?datum.value+'°N':(-datum.value)+'°S'","labelPadding":13,"minExtent":129.5,"maxExtent":129.5}},"y2":{"field":"s"},
"color":{"field":"b","type":"quantitative","scale":{"domain":[0,3],"clamp":true},"legend":null},
"stroke":{"field":"b","type":"quantitative","scale":{"domain":[0,3],"clamp":true},"legend":null}}},
{"mark":{"type":"rect","opacity":0},"encoding":{
"x":{"field":"w","type":"quantitative","scale":{"domain":[0,359],"nice":false,"zero":false},"axis":{"orient":"top","values":[0,90,180,270],"labels":false,"minExtent":5,"maxExtent":5}},"x2":{"field":"e"},
"y":{"field":"n","type":"quantitative","scale":{"domain":[-90,90],"nice":false,"zero":false},"axis":{"orient":"right","values":[-45,0,45],"labels":false,"minExtent":5,"maxExtent":5}},"y2":{"field":"s"}}}
]},
{"data":{"name":"bar"},"width":52,"height":471,"mark":{"type":"rect","strokeWidth":0.8},"encoding":{
"y":{"field":"lo","type":"quantitative","scale":{"domain":[0,3],"nice":false,"zero":false},"axis":{"orient":"right","values":[0,0.5,1,1.5,2,2.5,3],"format":"~g","labelFontSize":23,"tickSize":-5,"labelPadding":16,"title":"P* in mmol m⁻³","titleAngle":270,"titleFont":"Liberation Sans","titleFontSize":24,"titleFontWeight":"normal","titleColor":"#262626","titlePadding":44,"labelFlush":false,"labelOverlap":false}},"y2":{"field":"hi"},
"color":{"field":"v","type":"quantitative","scale":{"domain":[0,3]},"legend":null},
"stroke":{"field":"v","type":"quantitative","scale":{"domain":[0,3]},"legend":null}}}
]}
